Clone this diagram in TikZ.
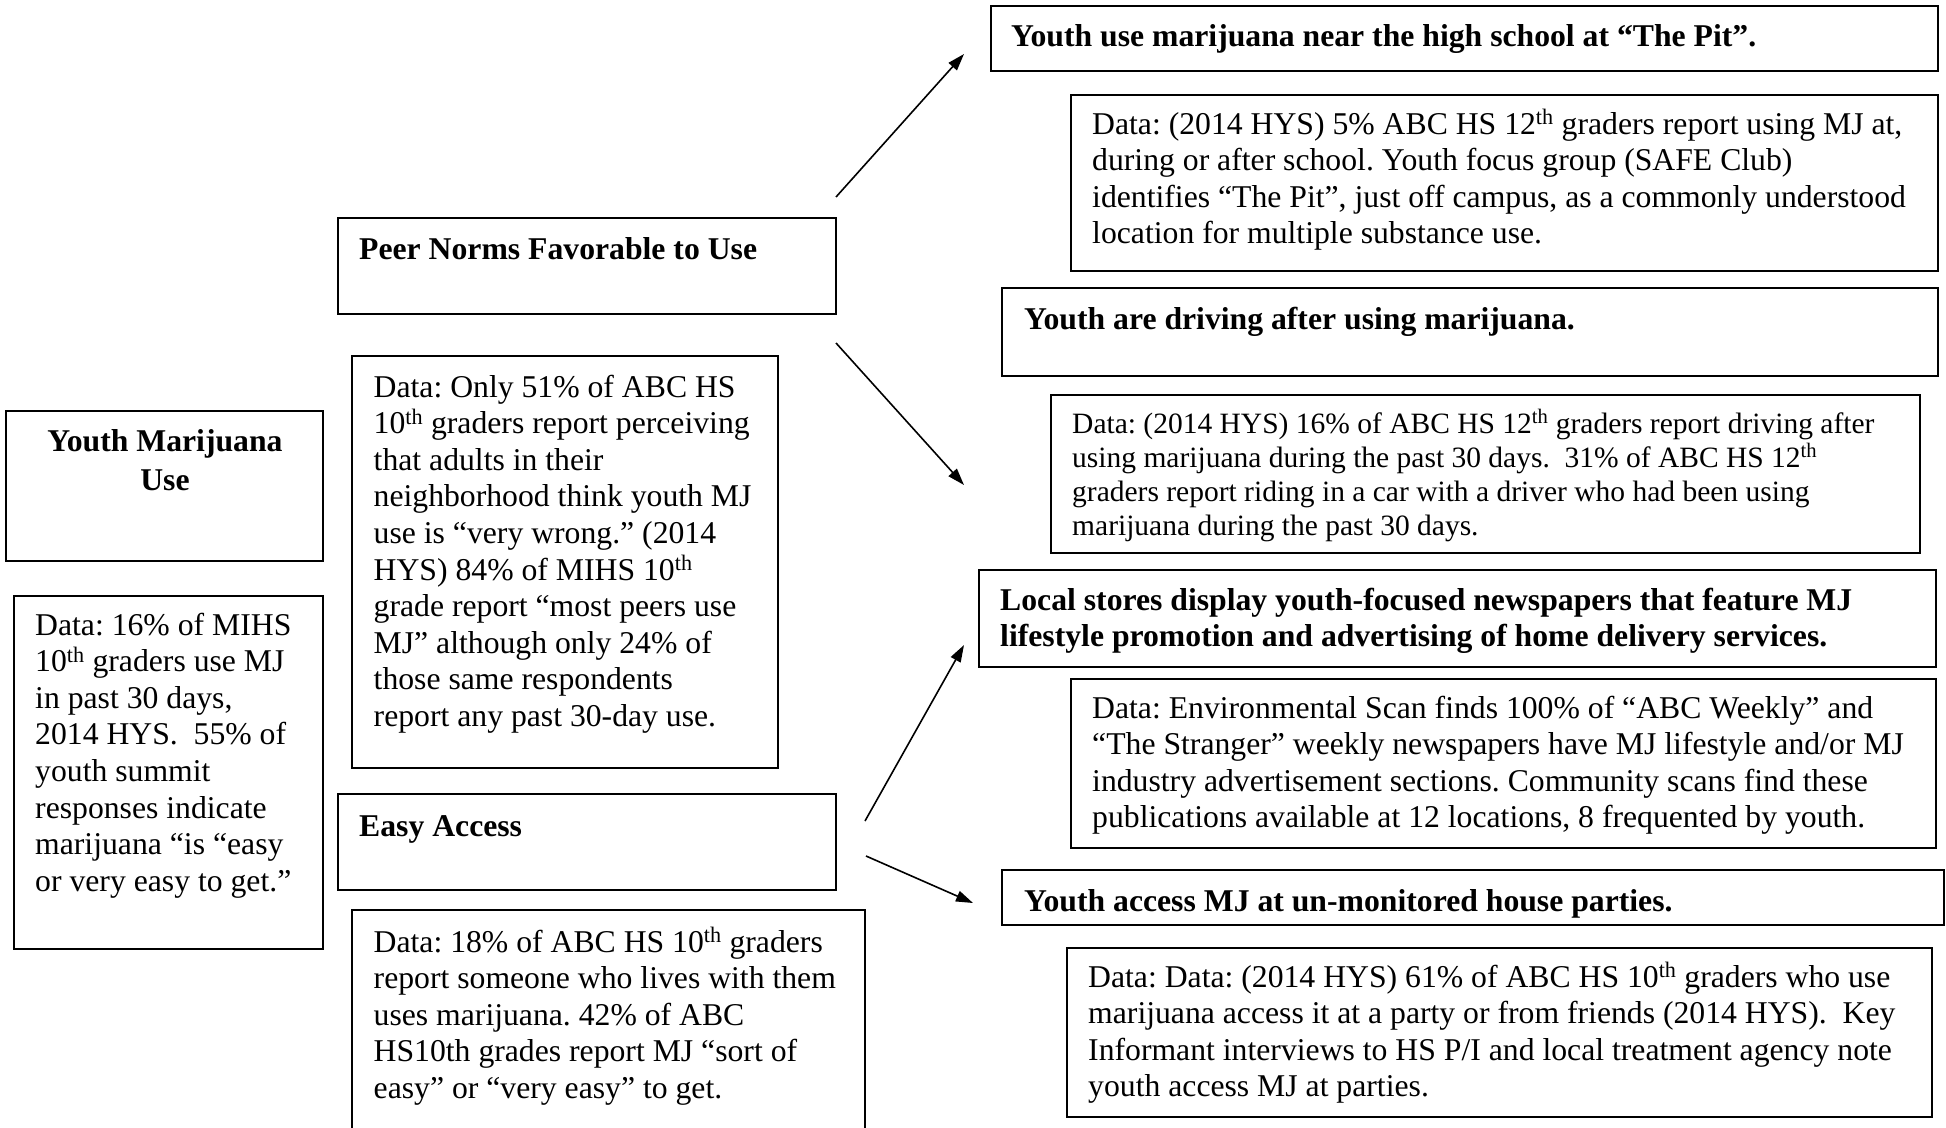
\documentclass[tikz,border=0pt]{standalone}
\usepackage{fontspec}
\setmainfont{Liberation Serif}
\usetikzlibrary{arrows.meta}

% text sizes used in the boxes
\newcommand\dgBody{\fontsize{31.7}{36.6}\selectfont\frenchspacing}
\newcommand\dgSmall{\fontsize{29.5}{34}\selectfont\frenchspacing}
\newcommand\dgTitle{\fontsize{31.7}{36.6}\selectfont\bfseries\frenchspacing}
% a block of lines whose reference point is the first baseline
\newcommand\dgLines[1]{\parbox[t]{1200pt}{\raggedright #1}}
\newcommand\dgth{\textsuperscript{th}}

\begin{document}
\begin{tikzpicture}[x=1pt,y=-1pt,
  frame/.style={draw, line width=2pt, inner sep=0pt, outer sep=0pt},
  txt/.style={inner sep=0pt, anchor=base west, font=\dgBody},
  smalltxt/.style={inner sep=0pt, anchor=base west, font=\dgSmall},
  ttl/.style={inner sep=0pt, anchor=base west, font=\dgTitle},
  link/.style={line width=1.6pt, -{Triangle[length=17pt,width=11pt]}}]

\useasboundingbox (0,0) rectangle (1946,1127);

% ---- left column: the problem ----
\node[frame, minimum width=317pt, minimum height=150pt] (ym) at (164.5,486) {};
\node[inner sep=0pt, anchor=base, font=\dgTitle] (ymT) at (165,451)
  {\parbox[t]{310pt}{\centering Youth Marijuana\\[2.5pt]Use}};

\node[frame, minimum width=309pt, minimum height=353pt] (ymD) at (168.5,772.5) {};
\node[txt] (ymDT) at (35,635) {\dgLines{Data: 16\% of MIHS\\
10\dgth{} graders use MJ\\
in past 30 days,\\
2014 HYS.\ \ 55\% of\\
youth summit\\
responses indicate\\
marijuana “is “easy\\
or very easy to get.”}};

% ---- middle column: risk factors ----
\node[frame, minimum width=498pt, minimum height=96pt] (pn) at (587,266) {};
\node[ttl] (pnT) at (359,259) {Peer Norms Favorable to Use};

\node[frame, minimum width=426pt, minimum height=412pt] (pnD) at (565,562) {};
\node[txt] (pnDT) at (373.5,397) {\dgLines{Data: Only 51\% of ABC HS\\
10\dgth{} graders report perceiving\\
that adults in their\\
neighborhood think youth MJ\\
use is “very wrong.” (2014\\
HYS) 84\% of MIHS 10\dgth\\
grade report “most peers use\\
MJ” although only 24\% of\\
those same respondents\\
report any past 30-day use.}};

\node[frame, minimum width=498pt, minimum height=96pt] (ea) at (587,842) {};
\node[ttl] (eaT) at (359,836) {Easy Access};

\node[frame, minimum width=513pt, minimum height=240pt] (eaD) at (608.5,1030) {};
\node[txt] (eaDT) at (373.5,952) {\dgLines{Data: 18\% of ABC HS 10\dgth{} graders\\
report someone who lives with them\\
uses marijuana. 42\% of ABC\\
HS10th grades report MJ “sort of\\
easy” or “very easy” to get.}};

% ---- right column: local conditions ----
\node[frame, minimum width=947pt, minimum height=65pt] (pit) at (1464.5,38.5) {};
\node[ttl] (pitT) at (1011,46) {Youth use marijuana near the high school at “The Pit”.};

\node[frame, minimum width=867pt, minimum height=176pt] (pitD) at (1504.5,183) {};
\node[txt] (pitDT) at (1092,134) {\dgLines{Data: (2014 HYS) 5\% ABC HS 12\dgth{} graders report using MJ at,\\
during or after school. Youth focus group (SAFE Club)\\
identifies “The Pit”, just off campus, as a commonly understood\\
location for multiple substance use.}};

\node[frame, minimum width=936pt, minimum height=88pt] (drv) at (1470,332) {};
\node[ttl] (drvT) at (1024,329) {Youth are driving after using marijuana.};

\node[frame, minimum width=869pt, minimum height=158pt] (drvD) at (1485.5,474) {};
\node[smalltxt] (drvDT) at (1072,433) {\dgLines{Data: (2014 HYS) 16\% of ABC HS 12\dgth{} graders report driving after\\
using marijuana during the past 30 days.\ \ 31\% of ABC HS 12\dgth\\
graders report riding in a car with a driver who had been using\\
marijuana during the past 30 days.}};

\node[frame, minimum width=957pt, minimum height=97pt] (st) at (1457.5,618.5) {};
\node[ttl] (stT) at (1000,610) {\dgLines{Local stores display youth-focused newspapers that feature MJ\\
lifestyle promotion and advertising of home delivery services.}};

\node[frame, minimum width=865pt, minimum height=169pt] (stD) at (1503.5,763.5) {};
\node[txt] (stDT) at (1092,718) {\dgLines{Data: Environmental Scan finds 100\% of “ABC Weekly” and\\
“The Stranger” weekly newspapers have MJ lifestyle and/or MJ\\
industry advertisement sections. Community scans find these\\
publications available at 12 locations, 8 frequented by youth.}};

\node[frame, minimum width=942pt, minimum height=55pt] (hp) at (1473,897.5) {};
\node[ttl] (hpT) at (1024,911) {Youth access MJ at un-monitored house parties.};

\node[frame, minimum width=865pt, minimum height=169pt] (hpD) at (1499.5,1032.5) {};
\node[txt] (hpDT) at (1088,987) {\dgLines{Data: Data: (2014 HYS) 61\% of ABC HS 10\dgth{} graders who use\\
marijuana access it at a party or from friends (2014 HYS).\ \ Key\\
Informant interviews to HS P/I and local treatment agency note\\
youth access MJ at parties.}};

% ---- arrows from risk factors to local conditions ----
\coordinate (a1s) at (836,197);  \coordinate (a1e) at (964,54);
\coordinate (a2s) at (836,343);  \coordinate (a2e) at (964,485);
\coordinate (a3s) at (865,821);  \coordinate (a3e) at (964,645);
\coordinate (a4s) at (866,856);  \coordinate (a4e) at (973,903);
\draw[link] (a1s) -- (a1e);
\draw[link] (a2s) -- (a2e);
\draw[link] (a3s) -- (a3e);
\draw[link] (a4s) -- (a4e);
\end{tikzpicture}
\end{document}
